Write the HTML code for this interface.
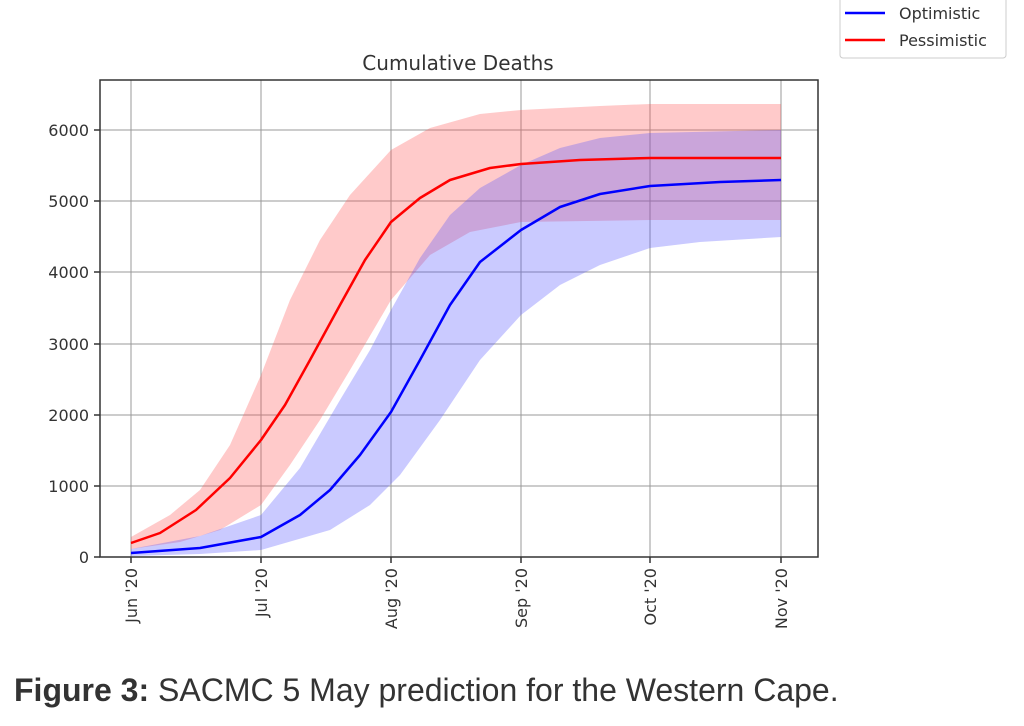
<!DOCTYPE html>
<html><head><style>
body{margin:0;background:#fff;width:1024px;height:721px;overflow:hidden}
svg text{font-family:"DejaVu Sans","Liberation Sans",sans-serif;fill:#333}
</style></head><body>
<svg width="1024" height="721" xmlns="http://www.w3.org/2000/svg">
<g stroke="#999" stroke-width="1">
<line x1="131" y1="80" x2="131" y2="557"/><line x1="261" y1="80" x2="261" y2="557"/><line x1="391" y1="80" x2="391" y2="557"/><line x1="521" y1="80" x2="521" y2="557"/><line x1="650" y1="80" x2="650" y2="557"/><line x1="781" y1="80" x2="781" y2="557"/>
<line x1="100" y1="130" x2="818" y2="130"/><line x1="100" y1="201" x2="818" y2="201"/><line x1="100" y1="272" x2="818" y2="272"/><line x1="100" y1="344" x2="818" y2="344"/><line x1="100" y1="415" x2="818" y2="415"/><line x1="100" y1="486" x2="818" y2="486"/>
</g>
<polygon fill="rgba(255,80,80,0.3)" stroke-linejoin="round" points="131,537 170,515 200,490 230,445 261,375 290,300 320,240 350,195 391,150 430,128 480,114 521,110 600,106 650,104 781,104 781,220 650,220 521,222 470,232 430,255 391,300 350,370 320,420 290,465 261,505 220,530 180,542 131,549"/>
<polygon fill="rgba(80,80,255,0.3)" points="131,549 200,536 261,515 300,468 340,400 370,350 391,310 420,258 450,215 480,188 521,165 560,148 600,138 650,133 781,130 781,237 700,242 650,248 600,265 560,285 521,315 480,360 440,420 400,475 370,505 330,530 261,550 200,554 131,556"/>
<polyline fill="none" stroke="#f00" stroke-width="2.5" stroke-linejoin="round" points="131,543 160,533 196,510 230,478 261,440 285,405 310,360 340,305 365,260 391,222 420,198 450,180 490,168 521,164 580,160 650,158 781,158"/>
<polyline fill="none" stroke="#00f" stroke-width="2.5" stroke-linejoin="round" points="131,553 200,548 261,537 300,515 330,490 360,455 391,412 420,360 450,305 480,262 521,230 560,207 600,194 650,186 720,182 781,180"/>
<rect x="100" y="80" width="718" height="477" fill="none" stroke="#333" stroke-width="1.5"/>
<g stroke="#333" stroke-width="1.5">
<line x1="131" y1="557" x2="131" y2="563"/><line x1="261" y1="557" x2="261" y2="563"/><line x1="391" y1="557" x2="391" y2="563"/><line x1="521" y1="557" x2="521" y2="563"/><line x1="650" y1="557" x2="650" y2="563"/><line x1="781" y1="557" x2="781" y2="563"/>
<line x1="94" y1="557" x2="100" y2="557"/><line x1="94" y1="486" x2="100" y2="486"/><line x1="94" y1="415" x2="100" y2="415"/><line x1="94" y1="344" x2="100" y2="344"/><line x1="94" y1="272" x2="100" y2="272"/><line x1="94" y1="201" x2="100" y2="201"/><line x1="94" y1="130" x2="100" y2="130"/>
</g>
<g font-size="16" text-anchor="end">
<text x="89" y="563">0</text><text x="89" y="492">1000</text><text x="89" y="421">2000</text><text x="89" y="350">3000</text><text x="89" y="278">4000</text><text x="89" y="207">5000</text><text x="89" y="136">6000</text>
</g>
<g font-size="16" text-anchor="end">
<text transform="translate(137,568) rotate(-90)">Jun '20</text>
<text transform="translate(267,568) rotate(-90)">Jul '20</text>
<text transform="translate(397,568) rotate(-90)">Aug '20</text>
<text transform="translate(527,568) rotate(-90)">Sep '20</text>
<text transform="translate(656,568) rotate(-90)">Oct '20</text>
<text transform="translate(787,568) rotate(-90)">Nov '20</text>
</g>
<text x="458" y="70" font-size="20" text-anchor="middle" fill="#222">Cumulative Deaths</text>
<rect x="840" y="-4" width="166" height="62" rx="3" fill="#fff" stroke="#ccc"/>
<line x1="845" y1="13" x2="885" y2="13" stroke="#00f" stroke-width="2.5"/>
<line x1="845" y1="40" x2="885" y2="40" stroke="#f00" stroke-width="2.5"/>
<text x="899" y="19" font-size="16">Optimistic</text>
<text x="899" y="46" font-size="16">Pessimistic</text>
<text x="14" y="701" font-size="32" style="font-family:'Liberation Sans',sans-serif" fill="#222"><tspan font-weight="bold">Figure 3:</tspan> SACMC 5 May prediction for the Western Cape.</text>
</svg>
</body></html>
